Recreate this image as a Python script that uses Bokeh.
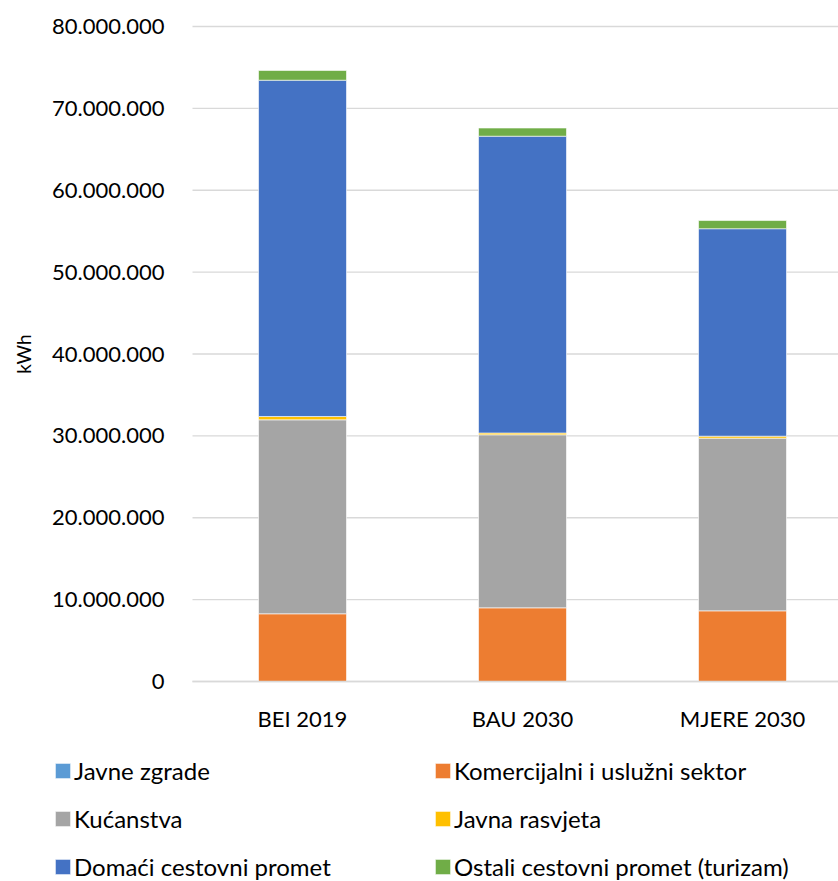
from bokeh.plotting import figure
from bokeh.models import ColumnDataSource, Range1d, FixedTicker, Legend, LegendItem
from bokeh.embed import file_html
from bokeh.resources import INLINE

categories = ["BEI 2019", "BAU 2030", "MJERE 2030"]
series_names = ["Javne zgrade", "Komercijalni i uslužni sektor", "Kućanstva",
                "Javna rasvjeta", "Domaći cestovni promet", "Ostali cestovni promet (turizam)"]
javne_zgrade = [0, 0, 0]
komercijalni = [8270000, 9000000, 8630000]
kucanstva = [23690000, 21130000, 21090000]
javna_rasvjeta = [410000, 220000, 240000]
domaci_promet = [41070000, 36250000, 25340000]
ostali_promet = [1190000, 1000000, 1000000]
y_ticks = [0, 10000000, 20000000, 30000000, 40000000, 50000000, 60000000, 70000000, 80000000]
y_tick_labels = ["0", "10.000.000", "20.000.000", "30.000.000", "40.000.000",
                 "50.000.000", "60.000.000", "70.000.000", "80.000.000"]
colors = ["#5B9BD5", "#ED7D31", "#A5A5A5", "#FFC000", "#4472C4", "#70AD47"]

keys = ["s0", "s1", "s2", "s3", "s4", "s5"]
src = ColumnDataSource(dict(x=list(range(len(categories))),
                            s0=javne_zgrade, s1=komercijalni, s2=kucanstva,
                            s3=javna_rasvjeta, s4=domaci_promet, s5=ostali_promet))

W, H = 838, 881
PX_PER_CAT = 220.0
FRAME_LEFT = 192          # pixel where the plotting area begins
Y_TOP, Y_ZERO = 26, 681    # pixel rows of the 80M and 0 lines
y_max = y_ticks[-1]
px_per_unit = (Y_ZERO - Y_TOP) / y_max
x_start = -0.5 - FRAME_LEFT / PX_PER_CAT
x_end = -0.5 + (W - FRAME_LEFT) / PX_PER_CAT
y_end = y_max + Y_TOP / px_per_unit
y_start = -(H - Y_ZERO) / px_per_unit

FONT = "Lato"
p = figure(width=W, height=H, output_backend="svg", toolbar_location=None,
           x_range=Range1d(x_start, x_end), y_range=Range1d(y_start, y_end),
           min_border=0, min_border_left=0, min_border_right=0,
           min_border_top=0, min_border_bottom=0)
p.outline_line_color = None
p.xgrid.grid_line_color = None
p.ygrid.grid_line_color = None

# horizontal gridlines between plot-area edges
p.segment(x0=[-0.5] * len(y_ticks), x1=[x_end] * len(y_ticks), y0=y_ticks, y1=y_ticks,
          line_color="#D9D9D9", line_width=1.3)

rs = p.vbar_stack(keys, x="x", width=0.4, source=src, color=colors,
                  line_color="white", line_width=0.6)

yax = p.yaxis[0]
yax.fixed_location = -0.5
yax.bounds = (0, y_max)
yax.ticker = FixedTicker(ticks=y_ticks)
yax.major_label_overrides = {t: l for t, l in zip(y_ticks, y_tick_labels)}
yax.axis_line_color = None
yax.major_tick_line_color = None
yax.minor_tick_line_color = None
yax.major_label_text_font = FONT
yax.major_label_text_font_size = "22px"
yax.major_label_text_color = "#000000"
yax.major_label_standoff = 22
yax.axis_label = "kWh"
yax.axis_label_text_font = FONT
yax.axis_label_text_font_size = "19px"
yax.axis_label_text_font_style = "normal"
yax.axis_label_text_color = "#000000"
yax.axis_label_standoff = 14

xax = p.xaxis[0]
xax.fixed_location = 0
xax.bounds = (-0.5, x_end)
xax.ticker = FixedTicker(ticks=list(range(len(categories))))
xax.major_label_overrides = {i: c for i, c in enumerate(categories)}
xax.axis_line_color = "#D9D9D9"
xax.axis_line_width = 1.5
xax.major_tick_line_color = None
xax.minor_tick_line_color = None
xax.major_label_text_font = FONT
xax.major_label_text_font_size = "22px"
xax.major_label_text_color = "#000000"
xax.major_label_standoff = 17

items = [LegendItem(label=n, renderers=[r]) for n, r in zip(series_names, rs)]
legend = Legend(items=items, orientation="horizontal", ncols=2,
                location=(53, 0), padding=0, margin=0,
                border_line_color=None, background_fill_alpha=0,
                glyph_width=19, glyph_height=19, label_standoff=2,
                label_width=340, label_height=29, spacing=19,
                label_text_font=FONT, label_text_font_size="24px",
                label_text_color="#000000")
p.add_layout(legend, "center")

open("out.html", "w").write(file_html(p, INLINE))
